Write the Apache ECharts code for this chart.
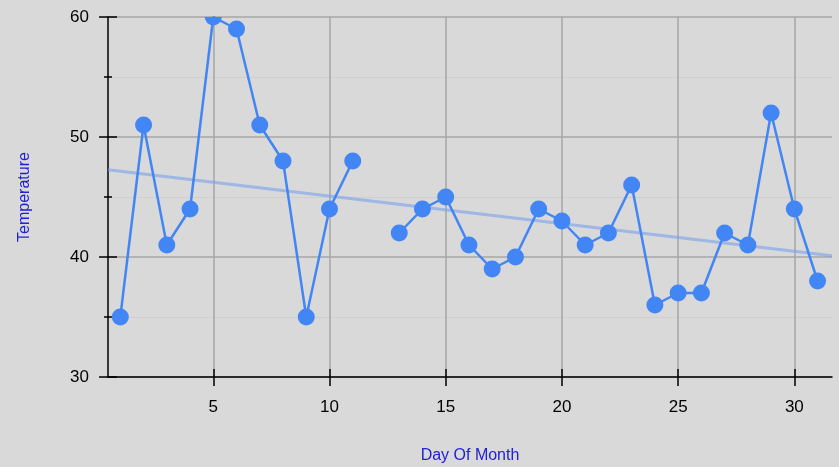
<!DOCTYPE html>
<html>
<head>
<meta charset="utf-8">
<script src="https://cdn.jsdelivr.net/npm/echarts@6/dist/echarts.min.js"></script>
<style>
html,body{margin:0;padding:0;background:#d9d9d9;}
#c{width:839px;height:467px;}
</style>
</head>
<body>
<div id="c"></div>
<script>
const days = [1,2,3,4,5,6,7,8,9,10,11,12,13,14,15,16,17,18,19,20,21,22,23,24,25,26,27,28,29,30,31];
const temps = [35,51,41,44,60,59,51,48,35,44,48,null,42,44,45,41,39,40,44,43,41,42,46,36,37,37,42,41,52,44,38];
const xTicks = [5,10,15,20,25,30];
const yTicks = [30,40,50,60];
const xMin = 0.47, xMax = 31.62;

// least-squares trendline computed from the data
const pts = days.map((d,i)=>[d,temps[i]]).filter(p=>p[1]!==null);
const n = pts.length;
const mx = pts.reduce((s,p)=>s+p[0],0)/n;
const my = pts.reduce((s,p)=>s+p[1],0)/n;
let sxy=0,sxx=0;
pts.forEach(p=>{sxy+=(p[0]-mx)*(p[1]-my);sxx+=(p[0]-mx)*(p[0]-mx);});
const slope = sxy/sxx, icpt = my - slope*mx;
const trend = [[xMin, icpt+slope*xMin],[xMax, icpt+slope*xMax]];

const chart = echarts.init(document.getElementById('c'));
const font = 'Liberation Sans, Arial, sans-serif';
const tickStyle = {color:'#000',width:1.5};
const blue = '#4285f4';
chart.setOption({
  backgroundColor:'#d9d9d9',
  animation:false,
  grid:{left:108,right:7,top:17,bottom:90,containLabel:false,outerBoundsMode:'none'},
  xAxis:[{
    type:'value', min:xMin, max:xMax,
    name:'Day Of Month', nameLocation:'middle', nameGap:71,
    nameTextStyle:{color:'#2020d8',fontSize:16,fontFamily:font},
    axisLine:{show:true,onZero:false,lineStyle:{color:'#000',width:1.5}},
    axisTick:{show:true,customValues:xTicks,length:9,inside:false,lineStyle:tickStyle},
    axisLabel:{customValues:xTicks,color:'#000',fontSize:17,fontFamily:font,margin:22},
    splitLine:{show:true,lineStyle:{color:'#a6a6a6',width:1.5}}
  },{
    type:'value', min:xMin, max:xMax, position:'bottom',
    axisLine:{show:false,onZero:false},
    axisTick:{show:true,customValues:xTicks,length:8,inside:true,lineStyle:tickStyle},
    axisLabel:{show:false}, splitLine:{show:false}
  }],
  yAxis:[{
    type:'value', min:30, max:60, interval:10,
    name:'Temperature', nameLocation:'middle', nameGap:75,
    nameTextStyle:{color:'#2020d8',fontSize:16,fontFamily:font},
    axisLine:{show:true,lineStyle:{color:'#000',width:1.5}},
    axisTick:{show:true,length:9,lineStyle:tickStyle},
    minorTick:{show:true,splitNumber:2,length:4,lineStyle:tickStyle},
    axisLabel:{color:'#000',fontSize:17,fontFamily:font,margin:19},
    splitLine:{show:true,lineStyle:{color:'#a6a6a6',width:1.5}},
    minorSplitLine:{show:true,lineStyle:{color:'#cfcfcf',width:1}}
  },{
    type:'value', min:30, max:60, interval:10, position:'left',
    axisLine:{show:false},
    axisTick:{show:true,length:9,inside:true,lineStyle:tickStyle},
    minorTick:{show:true,splitNumber:2,length:4,lineStyle:tickStyle},
    axisLabel:{show:false}, splitLine:{show:false}, minorSplitLine:{show:false}
  }],
  series:[
    {
      type:'line', data:trend, symbol:'none', silent:true,
      lineStyle:{color:'rgba(120,160,235,0.6)',width:3}, z:1
    },
    {
      type:'line', data:days.map((d,i)=>[d,temps[i]]), connectNulls:false,
      symbol:'none', clip:true,
      lineStyle:{color:blue,width:2.5}, z:2
    },
    {
      type:'custom', clip:true, z:3,
      data:pts,
      renderItem:function(params, api){
        const c = api.coord([api.value(0), api.value(1)]);
        const cs = params.coordSys;
        return {
          type:'group',
          children:[{
            type:'circle', shape:{cx:c[0], cy:c[1], r:8.5}, style:{fill:blue},
            clipPath:{type:'rect', shape:{x:cs.x, y:cs.y, width:cs.width, height:cs.height}}
          }]
        };
      }
    }
  ]
});
</script>
</body>
</html>
